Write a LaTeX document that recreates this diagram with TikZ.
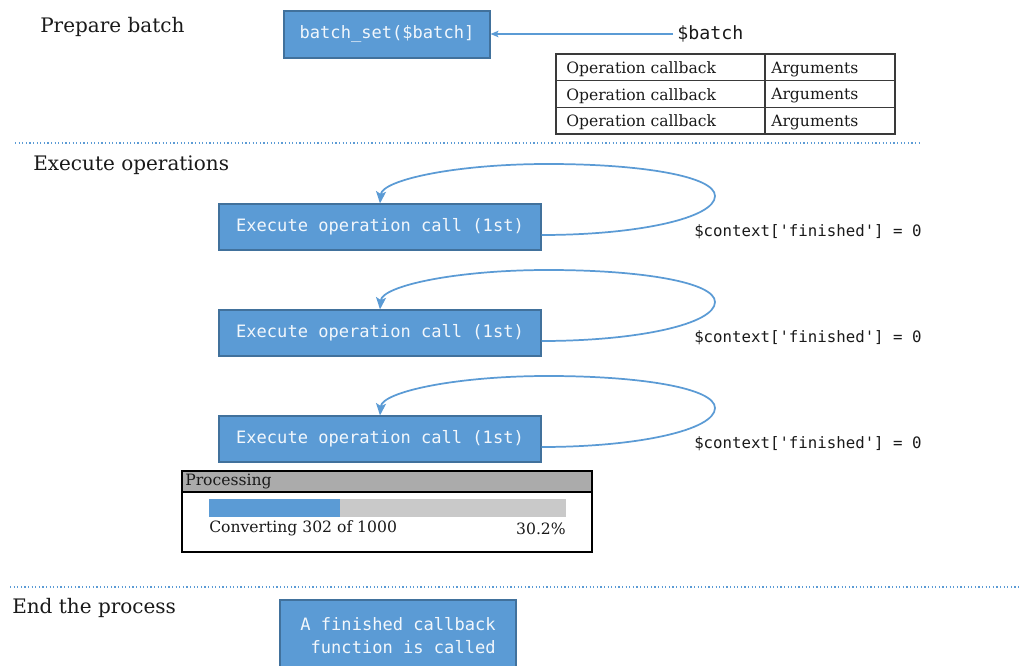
\documentclass[tikz,border=0pt]{standalone}
\usepackage{fontspec}
\setmainfont{DejaVu Serif}
\setmonofont{DejaVu Sans Mono}
\usetikzlibrary{arrows.meta}
\definecolor{boxblue}{HTML}{5B9BD5}
\definecolor{boxedge}{HTML}{41719C}
\definecolor{ink}{HTML}{1A1A1A}
\definecolor{panelgray}{HTML}{ABABAB}
\definecolor{bargray}{HTML}{C9C9C9}
\definecolor{rulegray}{HTML}{3A3A3A}
\begin{document}
\begin{tikzpicture}[x=0.75pt,y=-0.75pt,
  heading/.style={anchor=west,inner sep=0pt,text=ink,font=\fontsize{15}{18}\selectfont},
  small/.style={inner sep=0pt,text=ink,font=\fontsize{11.7}{14}\selectfont},
  bluebox/.style={draw=boxedge,fill=boxblue,line width=0.9pt,inner sep=0pt,
    text=white!92!boxblue,font=\fontsize{12.8}{17.3}\ttfamily},
  opbox/.style={bluebox,minimum width=241.5pt,minimum height=34.5pt},
  code/.style={anchor=west,inner sep=0pt,text=ink,font=\fontsize{11.8}{14}\ttfamily},
  loopline/.style={draw=boxblue,line width=1.3pt,-{Stealth[length=9pt,width=7.5pt,inset=2pt]}},
  sep/.style={draw=boxblue,line width=1.2pt,dash pattern=on 0.9pt off 1.8pt}]
\clip (0,0) rectangle (1021,666);
\fill[white] (0,0) rectangle (1021,666);

% --- Prepare batch ---
\node[heading] (hprep) at (40,27) {Prepare batch};
\node[bluebox,minimum width=154.5pt,minimum height=35.25pt] (bs) at (387,34.5) {batch\_set(\$batch]};
\node[code,font=\fontsize{13.7}{16}\ttfamily] (batch) at (677,34) {\$batch};
\draw[draw=boxblue,line width=0.8pt,-{Stealth[length=6pt,width=5pt,inset=1.5pt]}]
  ([xshift=-3pt]batch.west) -- (bs.east |- batch.west);

% operations table
\draw[rulegray,line width=1pt] (556,54) rectangle (895,134);
\draw[rulegray,line width=1pt] (556,80.7) -- (895,80.7) (556,107.3) -- (895,107.3)
  (765,54) -- (765,134);
\foreach \i/\y in {1/69.5,2/96,3/122.5}{
  \node[small,anchor=west] (cb\i) at (566,\y) {Operation callback};
  \node[small,anchor=west] (arg\i) at (771,\y) {Arguments};
}

\draw[sep] (15,143) -- (922,143);

% --- Execute operations ---
\node[heading] (hexec) at (33,165) {Execute operations};
\foreach \i/\t in {1/204,2/310,3/416}{
  \node[opbox] (op\i) at (380,\t+23) {Execute operation call (1st)};
  \node[code] (ctx\i) at (694,\t+28) {\$context['finished'] = 0};
  % elliptical return loop from the right side back onto the top edge
  \draw[loopline] (op\i.east |- 0,\t+31)
    .. controls (638,\t+31) and (715,\t+14) .. (715,\t-8)
    .. controls (715,\t-28) and (640,\t-40) .. (548,\t-40)
    .. controls (455,\t-40) and (382,\t-24) .. (op\i.north);
}

% progress panel
\draw[black,line width=1.3pt] (182,471) rectangle (592,552);
\draw[black,line width=1.3pt,fill=panelgray] (182,471) rectangle (592,492);
\node[small,anchor=west] (proc) at (185,481.5) {Processing};
\fill[bargray] (209,499) rectangle (566,517);
\fill[boxblue] (209,499) rectangle (340,517);
\node[small,anchor=west] (conv) at (209,528.5) {Converting 302 of 1000};
\node[small,anchor=east] (pct) at (566,528.5) {30.2\%};

\draw[sep] (10,587) -- (1021,587);

% --- End the process ---
\node[heading] (hend) at (12,608) {End the process};
\node[bluebox,minimum width=177pt,minimum height=54pt,align=right] (fin) at (398,636)
  {A finished callback\\function is called};
\end{tikzpicture}
\end{document}
